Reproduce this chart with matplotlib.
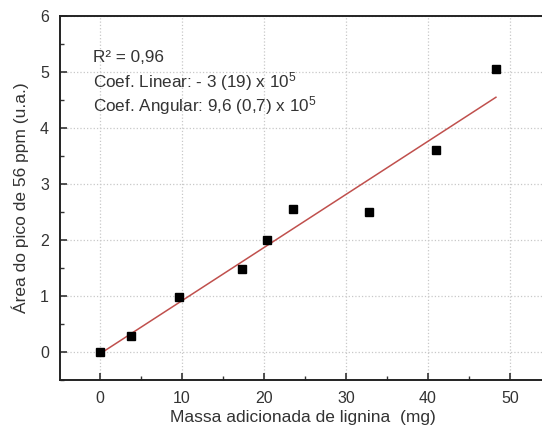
import numpy as np
import matplotlib
matplotlib.use('Agg')
import matplotlib.pyplot as plt

# 資料
massa = [0.0, 3.8, 9.6, 17.3, 20.4, 23.5, 32.8, 41.0, 48.3]
area = [0.0, 0.29, 0.98, 1.48, 2.0, 2.55, 2.5, 3.61, 5.05]

# 線性擬合（讀取值）
slope = 0.0948
intercept = -0.03
fit_x = [0.0, 48.3]

x_ticks = [0, 10, 20, 30, 40, 50]
y_ticks = [0, 1, 2, 3, 4, 5, 6]

textos = ['R² = 0,96',
          'Coef. Linear: - 3 (19) x 10$^5$',
          'Coef. Angular: 9,6 (0,7) x 10$^5$']

plt.rcParams['font.family'] = ['Liberation Sans', 'DejaVu Sans']
plt.rcParams['mathtext.fontset'] = 'custom'
plt.rcParams['mathtext.rm'] = 'Liberation Sans'
plt.rcParams['mathtext.it'] = 'Liberation Sans'

fig = plt.figure(figsize=(5.42, 4.29), dpi=100)
ax = fig.add_axes([0.1107, 0.1142, 0.895, 0.8485])

ax.grid(True, which='major', color='#c8c8c8', linestyle=':', linewidth=0.9)
ax.set_axisbelow(True)

fx = np.array(fit_x)
ax.plot(fx, slope * fx + intercept, color='#c0504d', linewidth=1.1, zorder=2)
ax.plot(massa, area, 's', color='black', markersize=5.8, zorder=3)

ax.set_xlim(-4.9, 54.3)
ax.set_ylim(-0.5, 6)
ax.set_xticks(x_ticks)
ax.set_yticks(y_ticks)
ax.set_xticks(np.arange(5, 55, 10), minor=True)
ax.set_yticks(np.arange(-0.5, 6, 1.0), minor=True)

ax.tick_params(which='major', direction='in', length=5, width=1.2, colors='#333333', labelsize=11.5, pad=8)
ax.tick_params(which='minor', direction='in', length=3, width=1.0, colors='#333333')
ax.tick_params(top=False, right=False)

for s in ['left', 'bottom', 'top']:
    ax.spines[s].set_linewidth(1.4)
    ax.spines[s].set_color('#222222')
ax.spines['right'].set_visible(False)

ax.set_xlabel('Massa adicionada de lignina  (mg)', fontsize=12.5, color='#333333', labelpad=3)
ax.set_ylabel('Área do pico de 56 ppm (u.a.)', fontsize=12.5, color='#333333', labelpad=8)

for i, t in enumerate(textos):
    ax.text(0.068, 0.885 - i * 0.065, t, transform=ax.transAxes, fontsize=12.3, color='#333333', va='center')

fig.savefig('out.png', dpi=100)
